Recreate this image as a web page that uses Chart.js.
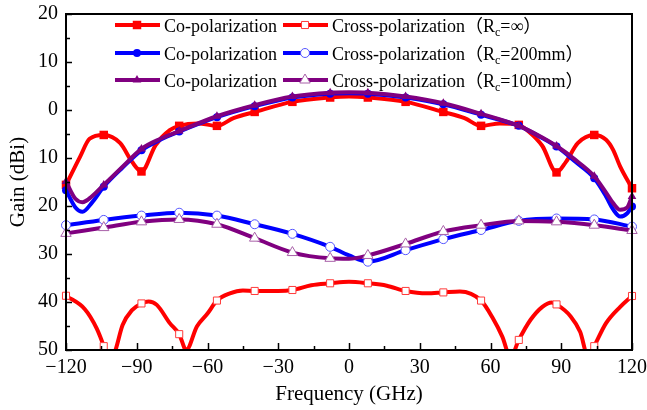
<!DOCTYPE html>
<html>
<head>
<meta charset="utf-8">
<script src="https://cdn.jsdelivr.net/npm/chart.js@4.4.1/dist/chart.umd.min.js"></script>
<style>
  body { margin: 0; background: #fff; }
  canvas { display: block; }
</style>
</head>
<body>
<canvas id="gain" width="647" height="410"></canvas>
<script>
// tick labels
var xTicks = [-120, -90, -60, -30, 0, 30, 60, 90, 120];
var yTicks = [20, 10, 0, -10, -20, -30, -40, -50];

// legend text
var coName = 'Co-polarization';
var crossName = 'Cross-polarization';
var rcNames = ['∞', '200mm', '100mm'];

// Rc = inf
var redCoX = [-120, -114, -110, -104, -97, -92, -88, -82, -76, -72, -64, -56, -49, -40, -24, -8, 0, 8, 24, 40, 49, 56, 64, 72, 76, 82, 88, 92, 97, 104, 109, 112, 115, 120];
var redCoY = [-15.6, -9.7, -6.0, -5.2, -6.9, -10.8, -12.8, -7.3, -4.2, -3.3, -2.8, -3.3, -1.7, -0.4, 1.7, 2.6, 2.8, 2.6, 1.7, -0.4, -1.7, -3.3, -2.8, -3.1, -4.4, -7.5, -13.0, -10.8, -6.9, -5.2, -6.2, -8.3, -11.8, -16.3];
var redCrossX = [-120, -112, -107, -104, -101.5, -99, -96, -92, -88, -85, -81.5, -76, -72, -69, -64.5, -60, -56, -50.5, -45, -40, -30, -24, -16, -8, 0, 8, 16, 24, 33, 40, 47, 56, 61, 65, 68.5, 72, 77, 82, 86, 88, 94, 98, 101.5, 104, 109, 115, 120];
var redCrossY = [-38.7, -41.5, -45.5, -49.2, -53.0, -50.0, -44.8, -41.7, -40.3, -39.9, -40.6, -44.4, -46.7, -50.0, -45.1, -42.4, -39.7, -38.2, -37.6, -37.7, -37.7, -37.5, -36.5, -36.1, -35.8, -36.1, -36.6, -37.7, -38.2, -38.0, -37.8, -39.7, -43.4, -47.2, -51.5, -47.9, -43.7, -41.0, -40.1, -40.5, -43.0, -46.2, -51.5, -49.2, -44.4, -41.0, -38.75];

// Rc = 200mm
var blueCoX = [-120, -116, -113, -109, -104, -96, -88, -80, -72, -56, -40, -24, -8, 0, 8, 24, 40, 56, 72, 80, 88, 96, 104, 109, 112, 115, 118, 120];
var blueCoY = [-16.7, -20.3, -21.2, -19.3, -16.0, -12.0, -8.4, -6.2, -4.5, -1.5, 0.8, 2.6, 3.4, 3.5, 3.4, 2.6, 1.2, -1.0, -3.3, -5.3, -7.6, -10.8, -14.2, -18.0, -20.7, -22.2, -21.5, -20.1];
var blueCrossX = [-120, -104, -88, -72, -56, -40, -24, -8, 0, 8, 24, 40, 56, 72, 88, 104, 120];
var blueCrossY = [-24.0, -22.9, -22.0, -21.4, -22.0, -23.8, -25.8, -28.5, -30.3, -31.6, -29.2, -26.9, -25.0, -23.1, -22.6, -22.8, -24.3];

// Rc = 100mm
var purpleCoX = [-120, -116, -113, -109, -104, -96, -88, -80, -72, -56, -40, -24, -8, 0, 8, 24, 40, 56, 72, 80, 88, 96, 104, 109, 112, 115, 118, 120];
var purpleCoY = [-14.9, -18.5, -19.2, -18.0, -15.6, -11.8, -8.1, -6.0, -4.4, -1.3, 1.0, 2.8, 3.6, 3.7, 3.6, 2.8, 1.4, -0.8, -3.3, -5.2, -7.5, -10.4, -13.8, -17.2, -19.4, -20.8, -20.3, -18.0];
var purpleCrossX = [-120, -104, -88, -72, -56, -40, -24, -8, 0, 8, 24, 40, 56, 72, 88, 104, 120];
var purpleCrossY = [-25.7, -24.5, -23.3, -22.8, -23.8, -26.7, -29.7, -30.9, -31.0, -30.3, -27.9, -25.3, -24.0, -23.1, -23.3, -24.0, -25.1];

var serif = '"Liberation Serif", "Times New Roman", serif';

function pts(xs, ys) {
    return xs.map(function (x, i) { return { x: x, y: ys[i] }; });
}

// markers only every 16 degrees, like the original plot
function mark(r) {
    return function (c) {
        return c.raw && (c.raw.x + 120) % 16 === 0 ? r : 0;
    };
}

function series(label, xs, ys, color, style, r, filled, edge, order) {
    return {
        label: label,
        data: pts(xs, ys),
        borderColor: color,
        borderWidth: 4,
        pointStyle: style,
        pointRadius: mark(r),
        pointHoverRadius: mark(r),
        pointBackgroundColor: filled ? color : '#fff',
        pointBorderColor: edge,
        pointBorderWidth: filled ? 0 : 1,
        cubicInterpolationMode: 'monotone',
        clip: { left: 8, right: 8, top: 0, bottom: 0 },
        order: order
    };
}

var sets = [
    series(coName, redCoX, redCoY, '#ff0000', 'rect', 6, true, '#ff0000', 4),
    series(crossName, redCrossX, redCrossY, '#ff0000', 'rect', 5, false, '#ff3b3b', 5),
    series(coName, blueCoX, blueCoY, '#0000ff', 'circle', 4, true, '#0000ff', 2),
    series(crossName, blueCrossX, blueCrossY, '#0000ff', 'circle', 4.5, false, '#5555ff', 3),
    series(coName, purpleCoX, purpleCoY, '#800080', 'triangle', 5, true, '#800080', 0),
    series(crossName, purpleCrossX, purpleCrossY, '#800080', 'triangle', 6, false, '#a860a8', 1)
];

// frame + inward ticks
var framePlugin = {
    id: 'frame',
    afterDatasetsDraw: function (chart) {
        var ctx = chart.ctx, a = chart.chartArea;
        var xs = chart.scales.x, ys = chart.scales.y;
        ctx.save();
        ctx.strokeStyle = '#000';
        ctx.lineWidth = 1.5;
        ctx.beginPath();
        for (var v = -120; v <= 120; v += 15) {
            var px = Math.round(xs.getPixelForValue(v)) + 0.5;
            var len = v % 30 === 0 ? 7 : 4;
            ctx.moveTo(px, a.bottom);
            ctx.lineTo(px, a.bottom - len);
        }
        for (var w = -50; w <= 20; w += 5) {
            var py = Math.round(ys.getPixelForValue(w)) + 0.5;
            var l2 = w % 10 === 0 ? 6 : 4;
            ctx.moveTo(a.left, py);
            ctx.lineTo(a.left + l2, py);
        }
        ctx.stroke();
        ctx.lineWidth = 2;
        ctx.strokeRect(a.left, a.top, a.right - a.left, a.bottom - a.top);
        ctx.restore();
    }
};

// legend laid out as in the figure: 2 columns x 3 rows
var legendPlugin = {
    id: 'boxLegend',
    afterDraw: function (chart) {
        var ctx = chart.ctx;
        var rows = [25, 53, 80];
        var cols = [115, 283];
        ctx.save();
        for (var i = 0; i < 3; i++) {
            for (var j = 0; j < 2; j++) {
                var ds = chart.data.datasets[i * 2 + j];
                var x0 = cols[j], y = rows[i];
                ctx.strokeStyle = ds.borderColor;
                ctx.lineWidth = 4;
                ctx.beginPath();
                ctx.moveTo(x0, y);
                ctx.lineTo(x0 + 45, y);
                ctx.stroke();
                ctx.fillStyle = ds.pointBackgroundColor;
                ctx.strokeStyle = ds.pointBorderColor;
                ctx.lineWidth = ds.pointBorderWidth;
                var r = ds.pointRadius({ raw: { x: -120 } });
                Chart.helpers.drawPoint(ctx, { pointStyle: ds.pointStyle, radius: r, rotation: 0, borderWidth: ds.pointBorderWidth }, x0 + 22, y);
                ctx.fillStyle = '#000';
                ctx.textBaseline = 'alphabetic';
                ctx.font = '18px ' + serif + ', "Noto Sans CJK SC"';
                var tx = x0 + 49, by = y + 6.5;
                if (j === 0) {
                    ctx.fillText(ds.label, tx, by);
                } else {
                    var s1 = ds.label + '（R';
                    ctx.fillText(s1, tx, by);
                    tx += ctx.measureText(s1).width;
                    ctx.font = '12px ' + serif;
                    ctx.fillText('c', tx, by + 4);
                    tx += ctx.measureText('c').width;
                    ctx.font = '18px ' + serif + ', "Noto Sans CJK SC"';
                    ctx.fillText('=' + rcNames[i] + '）', tx, by);
                }
            }
        }
        ctx.restore();
    }
};

new Chart(document.getElementById('gain'), {
    type: 'line',
    data: { datasets: sets },
    options: {
        responsive: false,
        animation: false,
        devicePixelRatio: 1,
        layout: { padding: { top: 14, right: 15, left: 0, bottom: 0 } },
        plugins: { legend: { display: false }, tooltip: { enabled: false } },
        scales: {
            x: {
                type: 'linear',
                min: -120,
                max: 120,
                afterBuildTicks: function (s) { s.ticks = xTicks.map(function (v) { return { value: v }; }); },
                afterFit: function (s) { s.height = 60; s.paddingLeft = 0; s.paddingRight = 0; },
                grid: { display: false, drawTicks: false },
                border: { display: false },
                ticks: {
                    autoSkip: false,
                    maxRotation: 0,
                    padding: 6,
                    color: '#000',
                    font: { family: serif, size: 20 },
                    callback: function (v) { return v < 0 ? '\u2212' + Math.abs(v) : String(v); }
                },
                title: { display: true, text: 'Frequency (GHz)', color: '#000', font: { family: serif, size: 21 }, padding: { top: 0, bottom: 3 } }
            },
            y: {
                min: -50,
                max: 20,
                afterBuildTicks: function (s) { s.ticks = yTicks.map(function (v) { return { value: v }; }); },
                afterFit: function (s) { s.width = 66; s.paddingTop = 0; s.paddingBottom = 0; },
                grid: { display: false, drawTicks: false },
                border: { display: false },
                ticks: {
                    autoSkip: false,
                    padding: 8,
                    color: '#000',
                    font: { family: serif, size: 20 },
                    callback: function (v) { return String(Math.abs(v)); }
                },
                title: { display: true, text: 'Gain (dBi)', color: '#000', font: { family: serif, size: 21 }, padding: { top: 6, bottom: 0 } }
            }
        }
    },
    plugins: [framePlugin, legendPlugin]
});
</script>
</body>
</html>
